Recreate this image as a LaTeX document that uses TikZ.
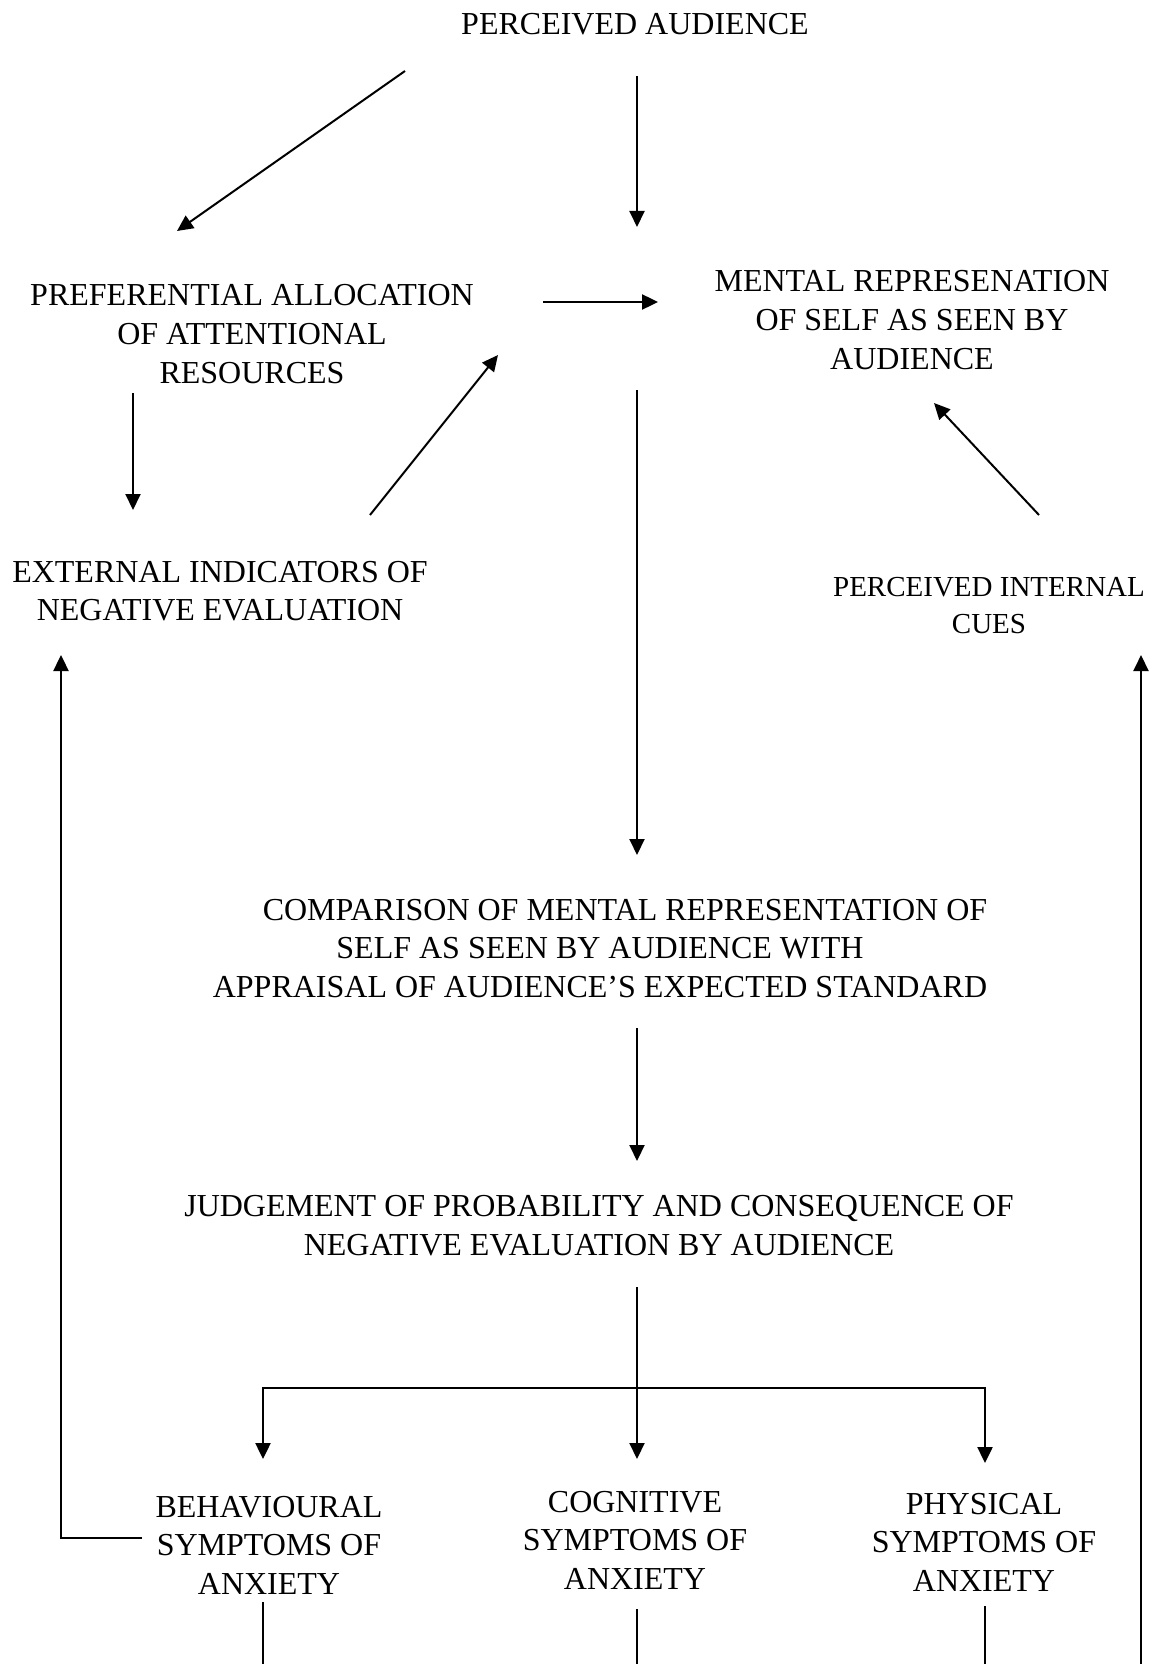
\documentclass[tikz,border=0pt]{standalone}
\usepackage{fontspec}
\setmainfont{Liberation Serif}
\usetikzlibrary{arrows.meta}

\tikzset{
  lbl/.style={align=center, inner sep=0pt, font=\fontsize{16}{19.3}\selectfont},
  lblsmall/.style={align=center, inner sep=0pt, font=\fontsize{14.5}{18.5}\selectfont},
  tip/.tip={Triangle[length=8pt,width=7.5pt]},
  link/.style={line width=1pt},
  arr/.style={link, -tip},
  heavy/.style={line width=1.2pt},
}

\begin{document}
\begin{tikzpicture}[x=0.5pt,y=-0.5pt]
  % canvas in pixel units, y pointing down
  \useasboundingbox (0,0) rectangle (1157,1664);

  % concepts
  \node[lbl] (pa)   at (635,24)     {PERCEIVED AUDIENCE};
  \node[lbl] (pref) at (252,334)    {PREFERENTIAL ALLOCATION\\OF ATTENTIONAL\\RESOURCES};
  \node[lbl] (mr)   at (912,320)    {MENTAL REPRESENATION\\OF SELF AS SEEN BY\\AUDIENCE};
  \node[lbl] (ext)  at (220,591)    {EXTERNAL INDICATORS OF\\NEGATIVE EVALUATION};
  \node[lblsmall] (pic) at (989,606) {PERCEIVED INTERNAL\\CUES};
  \node[lbl] (comp) at (600,948.5)  {\hspace*{25pt}COMPARISON OF MENTAL REPRESENTATION OF\\SELF AS SEEN BY AUDIENCE WITH\\APPRAISAL OF AUDIENCE’S EXPECTED STANDARD};
  \node[lbl] (judg) at (599,1225.5) {JUDGEMENT OF PROBABILITY AND CONSEQUENCE OF\\NEGATIVE EVALUATION BY AUDIENCE};
  \node[lbl] (beh)  at (269,1545)   {BEHAVIOURAL\\SYMPTOMS OF\\ANXIETY};
  \node[lbl] (cog)  at (635,1540)   {COGNITIVE\\SYMPTOMS OF\\ANXIETY};
  \node[lbl] (phy)  at (984,1542)   {PHYSICAL\\SYMPTOMS OF\\ANXIETY};

  % upper part
  \draw[arr] ([shift={(-230,47)}]pa.center) -- ([shift={(-75,-103)}]pref.center);
  \draw[arr] ([shift={(2,52)}]pa.center) -- ([shift={(-275,-93)}]mr.center);
  \draw[arr,heavy] ([shift={(291,-32)}]pref.center) -- ([shift={(-254,-18)}]mr.center);
  \draw[arr] ([shift={(-119,59)}]pref.center) -- ([shift={(-87,-81)}]ext.center);
  \draw[arr] ([shift={(150,-76)}]ext.center) -- ([shift={(-414,35)}]mr.center);
  \draw[arr] ([shift={(50,-91)}]pic.center) -- ([shift={(22,83)}]mr.center);

  % central chain
  \draw[arr] ([shift={(-275,70)}]mr.center) -- ([shift={(37,-93.5)}]comp.center);
  \draw[arr] ([shift={(37,79.5)}]comp.center) -- ([shift={(38,-64.5)}]judg.center);
  \draw[arr] ([shift={(38,61.5)}]judg.center) -- ([shift={(2,-81)}]cog.center);

  % branch to the outer symptoms
  \coordinate (barR) at (985,1388);
  \draw[link,heavy,tip-tip] ([shift={(-6,-86)}]beh.center) |- (barR) -- ([shift={(1,-79)}]phy.center);

  % feedback loops
  \draw[arr,heavy] ([shift={(-127,-7)}]beh.center) -| ([shift={(-159,64)}]ext.center);
  \coordinate (rbot) at (1141,1664);
  \draw[arr] (rbot) -- ([shift={(152,49)}]pic.center);

  % lines leaving the symptoms downwards
  \coordinate (bbot) at (263,1664);
  \coordinate (cbot) at (637,1664);
  \coordinate (pbot) at (985,1664);
  \draw[link] ([shift={(-6,57)}]beh.center) -- (bbot);
  \draw[link] ([shift={(2,69)}]cog.center) -- (cbot);
  \draw[link] ([shift={(1,64)}]phy.center) -- (pbot);
\end{tikzpicture}
\end{document}
